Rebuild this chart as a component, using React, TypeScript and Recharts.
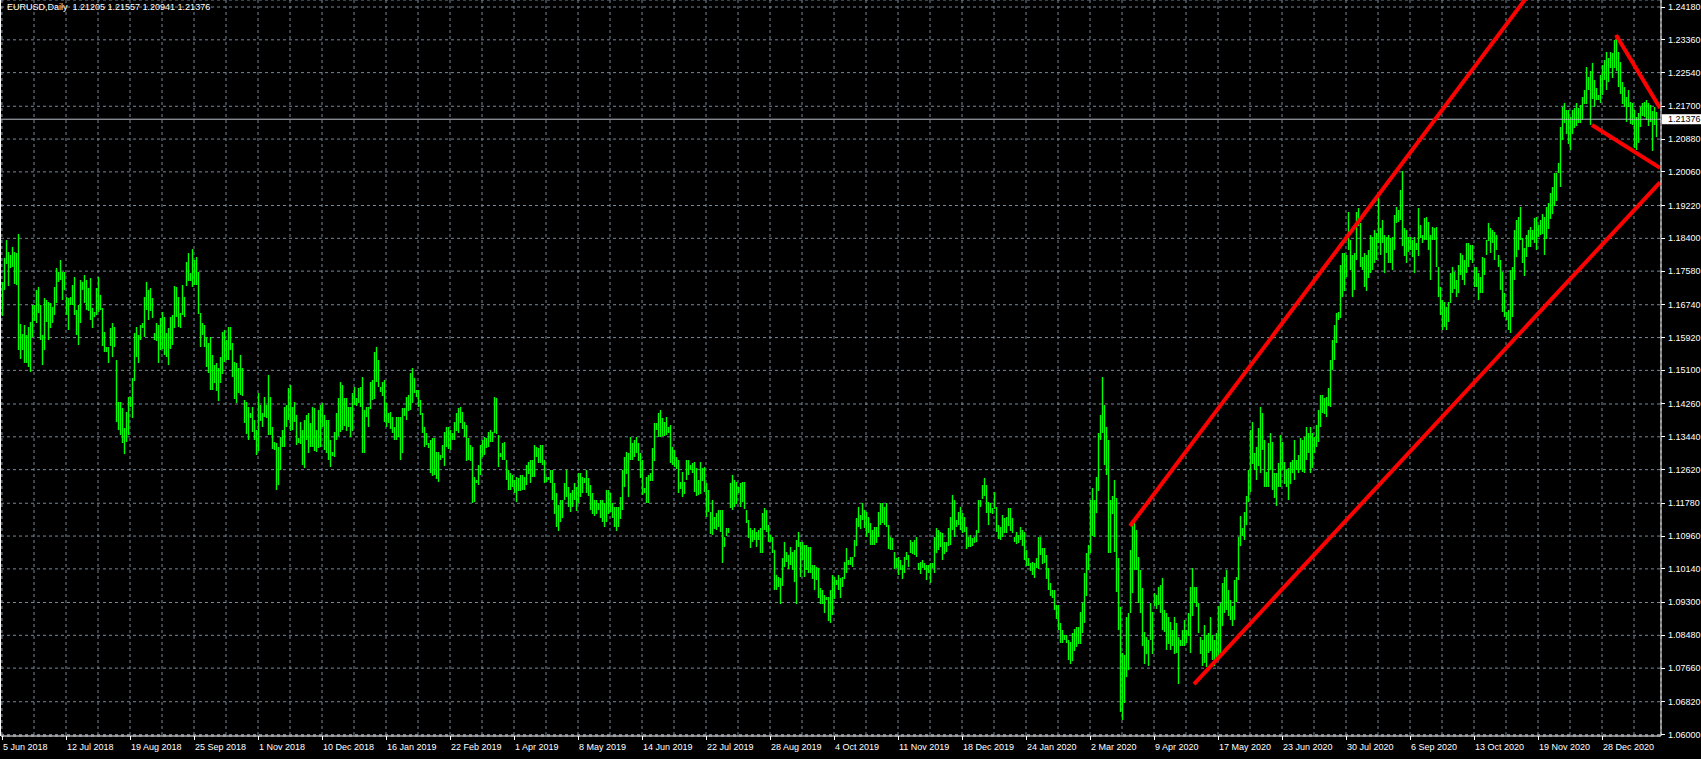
import React from "react";
import {
  ComposedChart,
  Bar,
  XAxis,
  YAxis,
  CartesianGrid,
  ReferenceLine,
} from "recharts";

// EURUSD daily bars, one value per bar (Sunday bars included)
const highs = [
  1.1732, 1.1792, 1.1837, 1.1807, 1.1798, 1.1819, 1.1807, 1.1803, 1.1852, 1.1626,
  1.1602, 1.1623, 1.1598, 1.1619, 1.1632, 1.1673, 1.1673, 1.1711, 1.1719, 1.1673,
  1.1598, 1.1690, 1.1686, 1.1682, 1.1678, 1.1669, 1.1718, 1.1765, 1.1757, 1.1787,
  1.1757, 1.1757, 1.1694, 1.1690, 1.1693, 1.1723, 1.1744, 1.1661, 1.1673, 1.1736,
  1.1732, 1.1748, 1.1736, 1.1715, 1.1740, 1.1665, 1.1657, 1.1715, 1.1744, 1.1698,
  1.1665, 1.1607, 1.1569, 1.1569, 1.1615, 1.1628, 1.1619, 1.1536, 1.1432, 1.1432,
  1.1415, 1.1365, 1.1407, 1.1444, 1.1444, 1.1490, 1.1603, 1.1619, 1.1598, 1.1623,
  1.1628, 1.1694, 1.1732, 1.1711, 1.1715, 1.1690, 1.1603, 1.1628, 1.1623, 1.1640,
  1.1657, 1.1644, 1.1603, 1.1615, 1.1644, 1.1648, 1.1721, 1.1719, 1.1694, 1.1653,
  1.1723, 1.1694, 1.1782, 1.1803, 1.1753, 1.1813, 1.1786, 1.1794, 1.1757, 1.1653,
  1.1628, 1.1623, 1.1594, 1.1578, 1.1594, 1.1548, 1.1523, 1.1528, 1.1515, 1.1544,
  1.1607, 1.1611, 1.1586, 1.1619, 1.1619, 1.1578, 1.1532, 1.1528, 1.1515, 1.1548,
  1.1515, 1.1436, 1.1432, 1.1419, 1.1403, 1.1419, 1.1386, 1.1361, 1.1453, 1.1423,
  1.1403, 1.1444, 1.1423, 1.1498, 1.1444, 1.1369, 1.1332, 1.1328, 1.1319, 1.1344,
  1.1361, 1.1419, 1.1423, 1.1465, 1.1473, 1.1419, 1.1432, 1.1398, 1.1340, 1.1382,
  1.1361, 1.1386, 1.1398, 1.1403, 1.1378, 1.1419, 1.1415, 1.1361, 1.1411, 1.1423,
  1.1428, 1.1398, 1.1386, 1.1386, 1.1336, 1.1307, 1.1357, 1.1403, 1.1440, 1.1482,
  1.1473, 1.1440, 1.1440, 1.1419, 1.1419, 1.1453, 1.1469, 1.1440, 1.1465, 1.1469,
  1.1494, 1.1411, 1.1419, 1.1419, 1.1482, 1.1486, 1.1557, 1.1569, 1.1536, 1.1469,
  1.1482, 1.1486, 1.1428, 1.1403, 1.1407, 1.1394, 1.1369, 1.1394, 1.1394, 1.1394,
  1.1415, 1.1415, 1.1444, 1.1448, 1.1503, 1.1515, 1.1490, 1.1461, 1.1461, 1.1436,
  1.1403, 1.1369, 1.1353, 1.1328, 1.1336, 1.1340, 1.1340, 1.1307, 1.1307, 1.1298,
  1.1323, 1.1357, 1.1369, 1.1369, 1.1361, 1.1353, 1.1382, 1.1403, 1.1415, 1.1419,
  1.1407, 1.1382, 1.1373, 1.1340, 1.1323, 1.1319, 1.1244, 1.1236, 1.1273, 1.1323,
  1.1336, 1.1344, 1.1340, 1.1357, 1.1361, 1.1357, 1.1444, 1.1440, 1.1349, 1.1303,
  1.1328, 1.1332, 1.1286, 1.1261, 1.1253, 1.1248, 1.1236, 1.1244, 1.1240, 1.1248,
  1.1248, 1.1244, 1.1273, 1.1282, 1.1286, 1.1286, 1.1323, 1.1319, 1.1315, 1.1323,
  1.1323, 1.1286, 1.1244, 1.1244, 1.1261, 1.1261, 1.1228, 1.1203, 1.1174, 1.1186,
  1.1186, 1.1228, 1.1261, 1.1219, 1.1203, 1.1211, 1.1228, 1.1219, 1.1253, 1.1253,
  1.1244, 1.1240, 1.1261, 1.1240, 1.1223, 1.1203, 1.1186, 1.1186, 1.1178, 1.1186,
  1.1186, 1.1178, 1.1211, 1.1211, 1.1203, 1.1178, 1.1169, 1.1169, 1.1169, 1.1194,
  1.1261, 1.1294, 1.1307, 1.1303, 1.1344, 1.1328, 1.1336, 1.1344, 1.1328, 1.1303,
  1.1286, 1.1215, 1.1244, 1.1249, 1.1253, 1.1315, 1.1378, 1.1378, 1.1403, 1.1411,
  1.1390, 1.1382, 1.1394, 1.1369, 1.1374, 1.1319, 1.1311, 1.1294, 1.1286, 1.1232,
  1.1257, 1.1232, 1.1286, 1.1286, 1.1273, 1.1278, 1.1282, 1.1265, 1.1236, 1.1282,
  1.1265, 1.1269, 1.1228, 1.1211, 1.1157, 1.1186, 1.1144, 1.1153, 1.1161, 1.1161,
  1.1161, 1.1094, 1.1115, 1.1115, 1.1228, 1.1249, 1.1236, 1.1232, 1.1219, 1.1228,
  1.1232, 1.1232, 1.1161, 1.1136, 1.1115, 1.1111, 1.1115, 1.1107, 1.1111, 1.1115,
  1.1153, 1.1165, 1.1161, 1.1124, 1.1099, 1.1094, 1.1061, 1.0999, 1.0994, 1.0990,
  1.1040, 1.1082, 1.1057, 1.1049, 1.1069, 1.1057, 1.1061, 1.1086, 1.1107, 1.1082,
  1.1082, 1.1074, 1.1074, 1.1069, 1.1069, 1.1024, 1.1024, 1.1019, 1.1015, 1.0965,
  1.0961, 1.0949, 1.0944, 1.0944, 1.0961, 1.0999, 1.0994, 1.0986, 1.0999, 1.0990,
  1.0994, 1.1032, 1.1065, 1.1036, 1.1044, 1.1044, 1.1086, 1.1140, 1.1169, 1.1149,
  1.1178, 1.1161, 1.1157, 1.1144, 1.1128, 1.1111, 1.1119, 1.1119, 1.1157, 1.1178,
  1.1178, 1.1169, 1.1178, 1.1124, 1.1094, 1.1090, 1.1057, 1.1040, 1.1044, 1.1036,
  1.1024, 1.1044, 1.1057, 1.1049, 1.1086, 1.1082, 1.1086, 1.1094, 1.1028, 1.1032,
  1.1036, 1.1028, 1.1024, 1.1024, 1.1028, 1.1028, 1.1094, 1.1115, 1.1111, 1.1107,
  1.1103, 1.1082, 1.1082, 1.1115, 1.1144, 1.1199, 1.1186, 1.1136, 1.1157, 1.1169,
  1.1153, 1.1144, 1.1119, 1.1094, 1.1099, 1.1090, 1.1094, 1.1111, 1.1186, 1.1186,
  1.1224, 1.1240, 1.1224, 1.1182, 1.1178, 1.1165, 1.1207, 1.1169, 1.1124, 1.1119,
  1.1149, 1.1140, 1.1144, 1.1165, 1.1165, 1.1140, 1.1094, 1.1107, 1.1099, 1.1119,
  1.1111, 1.1107, 1.1061, 1.1040, 1.1028, 1.1032, 1.1028, 1.1040, 1.1094, 1.1094,
  1.1065, 1.1065, 1.1049, 1.1015, 1.0978, 1.0961, 1.0961, 1.0924, 1.0924, 1.0878,
  1.0861, 1.0849, 1.0849, 1.0836, 1.0832, 1.0853, 1.0865, 1.0870, 1.0870, 1.0907,
  1.0928, 1.1003, 1.1053, 1.1074, 1.1186, 1.1215, 1.1186, 1.1244, 1.1353, 1.1398,
  1.1494, 1.1423, 1.1369, 1.1336, 1.1186, 1.1195, 1.1235, 1.1190, 1.1040, 1.0918,
  1.0803, 1.0800, 1.0895, 1.0903, 1.1061, 1.1136, 1.1128, 1.1111, 1.1044, 1.1011,
  1.0965, 1.0857, 1.0845, 1.0836, 1.0928, 1.0907, 1.0953, 1.0949, 1.0969, 1.0974,
  1.0990, 1.0911, 1.0903, 1.0895, 1.0882, 1.0861, 1.0895, 1.0878, 1.0845, 1.0836,
  1.0861, 1.0886, 1.0861, 1.0903, 1.0969, 1.1015, 1.0969, 1.0969, 1.0928, 1.0845,
  1.0836, 1.0874, 1.0849, 1.0853, 1.0895, 1.0849, 1.0836, 1.0853, 1.0920, 1.0928,
  1.0978, 1.0994, 1.1011, 1.0961, 1.0936, 1.0920, 1.0986, 1.0994, 1.1094, 1.1147,
  1.1115, 1.1155, 1.1197, 1.1261, 1.1361, 1.1382, 1.1303, 1.1319, 1.1365, 1.1419,
  1.1403, 1.1336, 1.1257, 1.1328, 1.1353, 1.1332, 1.1253, 1.1253, 1.1278, 1.1349,
  1.1332, 1.1282, 1.1261, 1.1265, 1.1282, 1.1286, 1.1336, 1.1286, 1.1299, 1.1340,
  1.1336, 1.1344, 1.1369, 1.1353, 1.1369, 1.1353, 1.1344, 1.1373, 1.1411, 1.1448,
  1.1448, 1.1440, 1.1444, 1.1465, 1.1536, 1.1586, 1.1623, 1.1653, 1.1657, 1.1773,
  1.1803, 1.1803, 1.1798, 1.1907, 1.1836, 1.1798, 1.1803, 1.1907, 1.1915, 1.1878,
  1.1794, 1.1803, 1.1798, 1.1811, 1.1848, 1.1844, 1.1861, 1.1853, 1.1944, 1.1865,
  1.1886, 1.1848, 1.1844, 1.1848, 1.1840, 1.1844, 1.1898, 1.1919, 1.1911, 1.1961,
  1.2007, 1.1865, 1.1861, 1.1844, 1.1844, 1.1836, 1.1844, 1.1828, 1.1915, 1.1873,
  1.1848, 1.1890, 1.1894, 1.1882, 1.1848, 1.1869, 1.1865, 1.1869, 1.1769, 1.1719,
  1.1686, 1.1682, 1.1669, 1.1682, 1.1753, 1.1769, 1.1757, 1.1736, 1.1773, 1.1803,
  1.1798, 1.1786, 1.1828, 1.1828, 1.1823, 1.1823, 1.1769, 1.1769, 1.1753, 1.1744,
  1.1794, 1.1790, 1.1836, 1.1878, 1.1865, 1.1861, 1.1857, 1.1848, 1.1798, 1.1786,
  1.1757, 1.1703, 1.1657, 1.1661, 1.1761, 1.1769, 1.1861, 1.1886, 1.1894, 1.1919,
  1.1840, 1.1815, 1.1848, 1.1861, 1.1869, 1.1861, 1.1890, 1.1894, 1.1873, 1.1886,
  1.1902, 1.1894, 1.1919, 1.1927, 1.1952, 1.1969, 1.2002, 1.2002, 1.2027, 1.2119,
  1.2169, 1.2177, 1.2161, 1.2161, 1.2144, 1.2161, 1.2165, 1.2177, 1.2165, 1.2173,
  1.2194, 1.2211, 1.2269, 1.2244, 1.2257, 1.2277, 1.2236, 1.2215, 1.2198, 1.2248,
  1.2273, 1.2286, 1.2306, 1.2290, 1.2306, 1.2302, 1.2336, 1.2348, 1.2306, 1.2281,
  1.2231, 1.2219, 1.2194, 1.2211, 1.2181, 1.2177, 1.2161, 1.2144, 1.2152, 1.2169,
  1.2177, 1.2181, 1.2186, 1.2177, 1.2173, 1.2157, 1.2169, 1.2156,
];

const lows = [
  1.1648, 1.1711, 1.1777, 1.1723, 1.1765, 1.1769, 1.1728, 1.1723, 1.1561, 1.1538,
  1.1561, 1.1528, 1.1528, 1.1519, 1.1507, 1.1594, 1.1632, 1.1628, 1.1653, 1.1586,
  1.1523, 1.1561, 1.1632, 1.1586, 1.1615, 1.1628, 1.1648, 1.1678, 1.1732, 1.1736,
  1.1686, 1.1711, 1.1648, 1.1611, 1.1673, 1.1673, 1.1648, 1.1598, 1.1573, 1.1628,
  1.1711, 1.1678, 1.1661, 1.1657, 1.1636, 1.1615, 1.1644, 1.1648, 1.1657, 1.1661,
  1.1569, 1.1557, 1.1557, 1.1528, 1.1569, 1.1544, 1.1569, 1.1382, 1.1361, 1.1349,
  1.1328, 1.1301, 1.1332, 1.1349, 1.1419, 1.1390, 1.1482, 1.1544, 1.1528, 1.1586,
  1.1615, 1.1594, 1.1661, 1.1636, 1.1657, 1.1640, 1.1586, 1.1582, 1.1528, 1.1561,
  1.1565, 1.1548, 1.1544, 1.1523, 1.1565, 1.1573, 1.1615, 1.1644, 1.1619, 1.1615,
  1.1648, 1.1644, 1.1723, 1.1732, 1.1732, 1.1719, 1.1723, 1.1723, 1.1653, 1.1569,
  1.1598, 1.1569, 1.1519, 1.1503, 1.1461, 1.1461, 1.1478, 1.1457, 1.1432, 1.1478,
  1.1503, 1.1532, 1.1536, 1.1536, 1.1561, 1.1494, 1.1440, 1.1428, 1.1453, 1.1448,
  1.1444, 1.1378, 1.1353, 1.1336, 1.1390, 1.1357, 1.1336, 1.1298, 1.1307, 1.1382,
  1.1369, 1.1394, 1.1390, 1.1349, 1.1349, 1.1315, 1.1311, 1.1211, 1.1223, 1.1261,
  1.1319, 1.1319, 1.1369, 1.1386, 1.1357, 1.1361, 1.1382, 1.1324, 1.1328, 1.1328,
  1.1273, 1.1265, 1.1336, 1.1303, 1.1319, 1.1319, 1.1307, 1.1307, 1.1315, 1.1319,
  1.1369, 1.1311, 1.1303, 1.1286, 1.1269, 1.1298, 1.1294, 1.1336, 1.1344, 1.1357,
  1.1361, 1.1369, 1.1357, 1.1369, 1.1344, 1.1357, 1.1423, 1.1419, 1.1428, 1.1419,
  1.1303, 1.1303, 1.1394, 1.1369, 1.1415, 1.1436, 1.1440, 1.1482, 1.1469, 1.1457,
  1.1448, 1.1382, 1.1369, 1.1378, 1.1365, 1.1353, 1.1336, 1.1336, 1.1344, 1.1286,
  1.1303, 1.1394, 1.1386, 1.1407, 1.1411, 1.1428, 1.1453, 1.1444, 1.1419, 1.1398,
  1.1353, 1.1319, 1.1323, 1.1315, 1.1253, 1.1244, 1.1248, 1.1240, 1.1232, 1.1286,
  1.1290, 1.1273, 1.1319, 1.1315, 1.1311, 1.1336, 1.1336, 1.1357, 1.1353, 1.1378,
  1.1365, 1.1344, 1.1282, 1.1286, 1.1282, 1.1178, 1.1182, 1.1228, 1.1223, 1.1248,
  1.1294, 1.1298, 1.1315, 1.1319, 1.1332, 1.1332, 1.1353, 1.1349, 1.1269, 1.1294,
  1.1286, 1.1286, 1.1236, 1.1211, 1.1211, 1.1219, 1.1203, 1.1182, 1.1207, 1.1207,
  1.1211, 1.1211, 1.1223, 1.1253, 1.1228, 1.1244, 1.1244, 1.1294, 1.1278, 1.1278,
  1.1273, 1.1228, 1.1232, 1.1236, 1.1228, 1.1186, 1.1150, 1.1119, 1.1110, 1.1130,
  1.1140, 1.1186, 1.1194, 1.1169, 1.1155, 1.1169, 1.1186, 1.1160, 1.1178, 1.1194,
  1.1203, 1.1228, 1.1203, 1.1194, 1.1160, 1.1150, 1.1145, 1.1150, 1.1160, 1.1140,
  1.1130, 1.1118, 1.1130, 1.1150, 1.1155, 1.1140, 1.1120, 1.1108, 1.1120, 1.1140,
  1.1160, 1.1219, 1.1253, 1.1194, 1.1286, 1.1286, 1.1294, 1.1303, 1.1282, 1.1240,
  1.1199, 1.1203, 1.1178, 1.1178, 1.1232, 1.1232, 1.1282, 1.1361, 1.1344, 1.1344,
  1.1344, 1.1348, 1.1348, 1.1353, 1.1278, 1.1273, 1.1269, 1.1265, 1.1203, 1.1215,
  1.1194, 1.1203, 1.1236, 1.1249, 1.1261, 1.1253, 1.1207, 1.1194, 1.1199, 1.1203,
  1.1232, 1.1207, 1.1144, 1.1157, 1.1103, 1.1099, 1.1115, 1.1111, 1.1119, 1.1107,
  1.1028, 1.1069, 1.1094, 1.1103, 1.1165, 1.1161, 1.1169, 1.1178, 1.1203, 1.1169,
  1.1182, 1.1165, 1.1128, 1.1090, 1.1065, 1.1082, 1.1086, 1.1069, 1.1086, 1.1053,
  1.1053, 1.1111, 1.1107, 1.1082, 1.1082, 1.1053, 1.0961, 1.0961, 1.0969, 1.0926,
  1.0969, 1.1019, 1.1032, 1.1015, 1.1024, 1.1011, 1.0982, 1.0927, 1.1069, 1.0994,
  1.1036, 1.0994, 1.1011, 1.1003, 1.1003, 1.0990, 1.0961, 1.0986, 1.0940, 1.0925,
  1.0925, 1.0905, 1.0936, 1.0885, 1.0879, 1.0899, 1.0940, 1.0974, 1.0961, 1.0940,
  1.0969, 1.0990, 1.1003, 1.1024, 1.1024, 1.1019, 1.1044, 1.1069, 1.1119, 1.1115,
  1.1136, 1.1115, 1.1094, 1.1103, 1.1074, 1.1074, 1.1074, 1.1078, 1.1094, 1.1124,
  1.1128, 1.1124, 1.1119, 1.1065, 1.1061, 1.1061, 1.1015, 1.1015, 1.0999, 1.1011,
  1.0990, 1.1003, 1.1036, 1.1019, 1.1053, 1.1053, 1.1049, 1.1044, 1.1011, 1.1003,
  1.1015, 1.1011, 1.0986, 1.1003, 1.0978, 1.1015, 1.1003, 1.1053, 1.1061, 1.1069,
  1.1036, 1.1053, 1.1057, 1.1069, 1.1074, 1.1111, 1.1094, 1.1119, 1.1124, 1.1111,
  1.1103, 1.1107, 1.1065, 1.1069, 1.1069, 1.1069, 1.1078, 1.1082, 1.1103, 1.1169,
  1.1190, 1.1194, 1.1153, 1.1124, 1.1153, 1.1149, 1.1165, 1.1107, 1.1090, 1.1086,
  1.1094, 1.1103, 1.1103, 1.1119, 1.1107, 1.1103, 1.1082, 1.1078, 1.1078, 1.1086,
  1.1070, 1.1036, 1.1020, 1.1020, 1.1007, 1.0999, 1.0990, 1.1015, 1.1015, 1.1049,
  1.1024, 1.1028, 1.0990, 1.0961, 1.0945, 1.0940, 1.0911, 1.0890, 1.0861, 1.0828,
  1.0828, 1.0836, 1.0828, 1.0786, 1.0778, 1.0782, 1.0811, 1.0820, 1.0828, 1.0828,
  1.0853, 1.0878, 1.0945, 1.1011, 1.1053, 1.1094, 1.1094, 1.1153, 1.1207, 1.1336,
  1.1353, 1.1274, 1.1249, 1.1053, 1.1053, 1.1150, 1.1055, 1.0955, 1.0860, 1.0655,
  1.0636, 1.0680, 1.0745, 1.0761, 1.0903, 1.0953, 1.1011, 1.1011, 1.0928, 1.0903,
  1.0820, 1.0778, 1.0803, 1.0770, 1.0836, 1.0803, 1.0920, 1.0915, 1.0924, 1.0903,
  1.0861, 1.0857, 1.0811, 1.0828, 1.0811, 1.0820, 1.0803, 1.0803, 1.0728, 1.0820,
  1.0820, 1.0820, 1.0828, 1.0845, 1.0803, 1.0895, 1.0928, 1.0920, 1.0853, 1.0803,
  1.0770, 1.0778, 1.0770, 1.0803, 1.0811, 1.0786, 1.0770, 1.0786, 1.0786, 1.0803,
  1.0870, 1.0903, 1.0911, 1.0895, 1.0886, 1.0870, 1.0886, 1.0932, 1.0986, 1.1072,
  1.1095, 1.1085, 1.1125, 1.1180, 1.1205, 1.1278, 1.1261, 1.1236, 1.1269, 1.1253,
  1.1311, 1.1219, 1.1219, 1.1219, 1.1261, 1.1211, 1.1190, 1.1170, 1.1219, 1.1219,
  1.1261, 1.1228, 1.1219, 1.1185, 1.1228, 1.1253, 1.1236, 1.1261, 1.1253, 1.1261,
  1.1257, 1.1253, 1.1286, 1.1303, 1.1253, 1.1265, 1.1303, 1.1319, 1.1332, 1.1369,
  1.1403, 1.1399, 1.1394, 1.1419, 1.1419, 1.1511, 1.1536, 1.1578, 1.1636, 1.1640,
  1.1694, 1.1707, 1.1744, 1.1811, 1.1761, 1.1694, 1.1711, 1.1786, 1.1869, 1.1769,
  1.1761, 1.1719, 1.1707, 1.1740, 1.1753, 1.1761, 1.1778, 1.1786, 1.1828, 1.1798,
  1.1828, 1.1753, 1.1803, 1.1778, 1.1778, 1.1761, 1.1811, 1.1878, 1.1882, 1.1886,
  1.1819, 1.1794, 1.1778, 1.1807, 1.1811, 1.1794, 1.1753, 1.1811, 1.1794, 1.1840,
  1.1828, 1.1836, 1.1836, 1.1811, 1.1736, 1.1836, 1.1836, 1.1769, 1.1694, 1.1648,
  1.1611, 1.1619, 1.1611, 1.1632, 1.1678, 1.1703, 1.1715, 1.1694, 1.1703, 1.1748,
  1.1736, 1.1723, 1.1753, 1.1769, 1.1786, 1.1778, 1.1719, 1.1719, 1.1686, 1.1703,
  1.1703, 1.1748, 1.1798, 1.1832, 1.1803, 1.1828, 1.1786, 1.1811, 1.1769, 1.1711,
  1.1657, 1.1644, 1.1636, 1.1611, 1.1603, 1.1644, 1.1736, 1.1794, 1.1811, 1.1836,
  1.1777, 1.1744, 1.1794, 1.1819, 1.1819, 1.1836, 1.1828, 1.1811, 1.1844, 1.1848,
  1.1852, 1.1798, 1.1840, 1.1861, 1.1886, 1.1902, 1.1919, 1.1932, 1.2002, 1.1969,
  1.2086, 1.2127, 1.2102, 1.2077, 1.2061, 1.2102, 1.2115, 1.2119, 1.2127, 1.2127,
  1.2136, 1.2177, 1.2177, 1.2211, 1.2123, 1.2186, 1.2169, 1.2186, 1.2186, 1.2177,
  1.2198, 1.2236, 1.2211, 1.2231, 1.2265, 1.2240, 1.2265, 1.2257, 1.2219, 1.2202,
  1.2177, 1.2169, 1.2131, 1.2169, 1.2127, 1.2123, 1.2065, 1.2061, 1.2077, 1.2119,
  1.2144, 1.2144, 1.2136, 1.2119, 1.2131, 1.2056, 1.2123, 1.2094,
];

const dateLabels = [
  "5 Jun 2018", "12 Jul 2018", "19 Aug 2018", "25 Sep 2018", "1 Nov 2018",
  "10 Dec 2018", "16 Jan 2019", "22 Feb 2019", "1 Apr 2019", "8 May 2019",
  "14 Jun 2019", "22 Jul 2019", "28 Aug 2019", "4 Oct 2019", "11 Nov 2019",
  "18 Dec 2019", "24 Jan 2020", "2 Mar 2020", "9 Apr 2020", "17 May 2020",
  "23 Jun 2020", "30 Jul 2020", "6 Sep 2020", "13 Oct 2020", "19 Nov 2020",
  "28 Dec 2020",
];

const priceTicks = [
  1.2418, 1.2336, 1.2254, 1.217, 1.2088, 1.2006, 1.1922, 1.184, 1.1758,
  1.1674, 1.1592, 1.151, 1.1426, 1.1344, 1.1262, 1.1178, 1.1096, 1.1014,
  1.093, 1.0848, 1.0766, 1.0682, 1.06,
];

// open, high, low, close of the last bar
const lastBar = [1.21205, 1.21557, 1.20941, 1.21376];

// hand-drawn red lines: [bar index, price] pairs
const trendLines = [
  [[564, 1.1121], [800, 1.2693]],
  [[596, 1.0726], [829, 1.198]],
  [[807, 1.2348], [829, 1.2166]],
  [[795, 1.2123], [829, 1.2016]],
];

const LABEL_STEP = 32;
const GRID_STEP = 16;
const EXTRA_SLOTS = 2;
const FONT = "'Liberation Sans', Arial, sans-serif";
const GRID = "#778899";

const rows = Array.from({ length: highs.length + EXTRA_SLOTS }, (_, i) => ({
  i,
  range: i < highs.length ? [lows[i], highs[i]] : null,
}));

const gridTicks = rows.filter((r) => r.i % GRID_STEP === 0).map((r) => r.i);

function OhlcBar(props: any) {
  const { x, y, width, height } = props;
  if (x == null || y == null) return null;
  const cx = Math.floor(x + width / 2);
  const top = Math.round(Math.min(y, y + height));
  const h = Math.max(1, Math.round(Math.abs(height)));
  return <rect x={cx - 0.2} y={top} width={1.4} height={h} fill="#00ff00" />;
}

function DateTick(props: any) {
  const { x, y, payload } = props;
  if (payload.value % LABEL_STEP !== 0) return <g />;
  const label = dateLabels[payload.value / LABEL_STEP];
  return (
    <g>
      <line x1={x} x2={x} y1={y - 4} y2={y} stroke="#fff" shapeRendering="crispEdges" />
      <text x={x + 1} y={y + 10} fill="#fff" fontSize={9} fontFamily={FONT} textAnchor="start">
        {label}
      </text>
    </g>
  );
}

function PriceTick(props: any) {
  const { x, y, payload } = props;
  return (
    <g>
      <line x1={x - 7} x2={x - 3} y1={y} y2={y} stroke="#fff" shapeRendering="crispEdges" />
      <text x={x} y={y + 3} fill="#fff" fontSize={9} fontFamily={FONT} textAnchor="start">
        {payload.value.toFixed(5)}
      </text>
    </g>
  );
}

function PriceTag(props: any) {
  const vb = props.viewBox || {};
  const left = vb.x + vb.width + 1;
  return (
    <g>
      <rect x={left} y={vb.y - 5} width={40} height={10} fill="#fff" />
      <text x={left + 6} y={vb.y + 3} fill="#000" fontSize={9} fontFamily={FONT}>
        {lastBar[3].toFixed(5)}
      </text>
    </g>
  );
}

export default function App() {
  const title = `EURUSD,Daily  ${lastBar.map((v) => v.toFixed(5)).join(" ")}`;
  return (
    <div style={{ position: "relative", width: 1701, height: 759, background: "#000", overflow: "hidden" }}>
      <style>{"body{margin:0;background:#000;}"}</style>
      <ComposedChart
        width={1701}
        height={759}
        data={rows}
        margin={{ top: 0, right: 0, bottom: 0, left: 1 }}
      >
        <CartesianGrid stroke={GRID} strokeDasharray="3 3" />
        <XAxis
          dataKey="i"
          type="category"
          ticks={gridTicks}
          interval={0}
          height={23}
          tickSize={4}
          tickMargin={0}
          tickLine={false}
          axisLine={{ stroke: "#fff" }}
          tick={<DateTick />}
        />
        <YAxis
          orientation="right"
          type="number"
          domain={[1.05964, 1.24355]}
          ticks={priceTicks}
          interval={0}
          allowDataOverflow
          width={40}
          tickSize={4}
          tickMargin={3}
          tickLine={false}
          axisLine={{ stroke: "#fff" }}
          tick={<PriceTick />}
        />
        <Bar dataKey="range" barSize={1} isAnimationActive={false} shape={<OhlcBar />} />
        <ReferenceLine
          y={lastBar[3]}
          stroke="#b8c0c8"
          strokeWidth={1}
          label={(p: any) => <PriceTag {...p} />}
        />
        {trendLines.map((seg, k) => (
          <ReferenceLine
            key={k}
            segment={[
              { x: seg[0][0], y: seg[0][1] },
              { x: seg[1][0], y: seg[1][1] },
            ]}
            stroke="#ff0000"
            strokeWidth={4}
            ifOverflow="hidden"
          />
        ))}
      </ComposedChart>
      <div style={{ position: "absolute", left: 0, top: 0, width: 1, height: 736, background: "#fff" }} />
      <div
        style={{
          position: "absolute",
          left: 7,
          top: 2,
          color: "#fff",
          fontFamily: FONT,
          fontSize: 9,
          lineHeight: "11px",
          whiteSpace: "pre",
        }}
      >
        {title}
      </div>
    </div>
  );
}
